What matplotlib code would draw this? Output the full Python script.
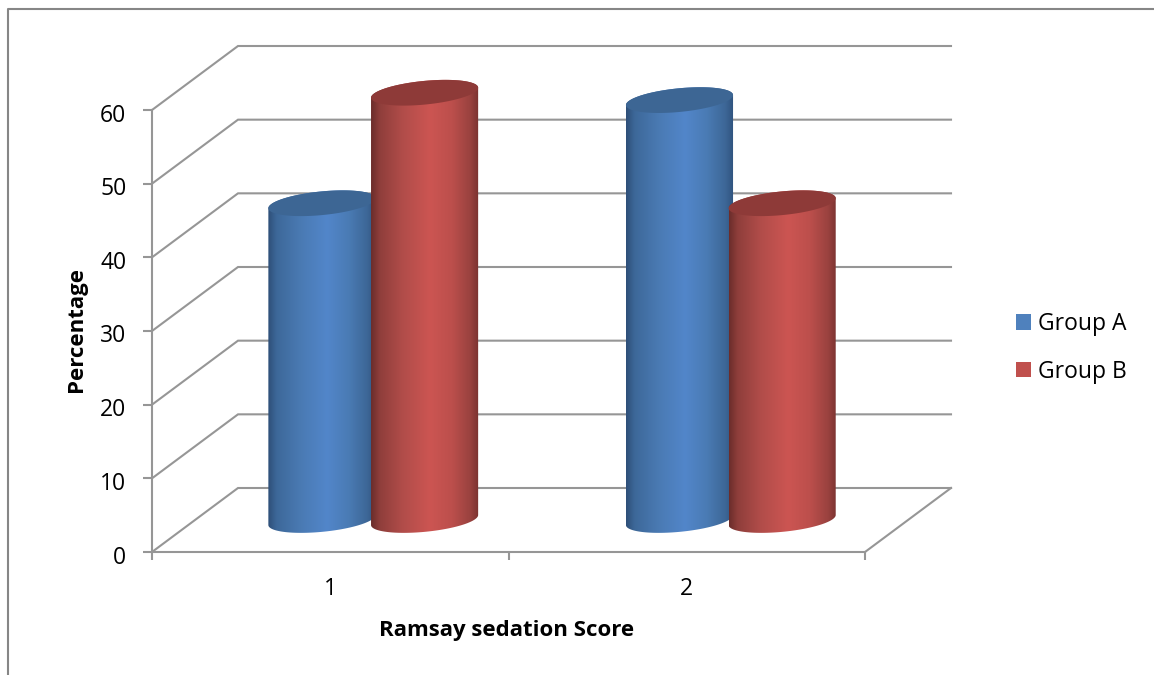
import numpy as np
import matplotlib
matplotlib.use("Agg")
import matplotlib.pyplot as plt
from matplotlib.colors import LinearSegmentedColormap
from matplotlib.lines import Line2D
from matplotlib.patches import Patch, PathPatch
from matplotlib.path import Path
from matplotlib.transforms import ScaledTranslation

categories = ["1", "2"]
group_a = [43, 57]
group_b = [58, 43]
series_names = ["Group A", "Group B"]
y_ticks = [0, 10, 20, 30, 40, 50, 60]
x_title = "Ramsay sedation Score"
y_title = "Percentage"

plt.rcParams["font.family"] = ["Open Sans", "DejaVu Sans"]

W, H = 1154, 675
GRID = "#969696"
BLUE, RED = "#4F81BD", "#C0504D"
BLUE_TOP, RED_TOP = "#3D6694", "#8E3A38"
blue_ramp = LinearSegmentedColormap.from_list("blue_ramp", [
    (0, "#2E4F78"), (.08, "#3D6899"), (.30, "#4A7AB3"), (.55, "#5286CA"),
    (.75, "#4A7BB4"), (.92, "#3D6797"), (1, "#30537E")])
red_ramp = LinearSegmentedColormap.from_list("red_ramp", [
    (0, "#6B2D2B"), (.08, "#8F3E3B"), (.30, "#B24D4A"), (.55, "#CC5552"),
    (.75, "#BC4F4C"), (.92, "#9A423F"), (1, "#7A3230")])

fig = plt.figure(figsize=(W / 100, H / 100), dpi=100, facecolor="white")
left, right, bottom, top = 152, 865, 552, 110
ax = fig.add_axes([left / W, 1 - bottom / H, (right - left) / W, (bottom - top) / H])
ax.set_xlim(0, 2)
ax.set_ylim(0, 60)
ax.patch.set_visible(False)

# pixel sizes of the oblique projection expressed in data units
px_x = 2 / (right - left)
px_y = 60 / (bottom - top)
depth_x, depth_y = 86 * px_x, 64 * px_y

for s in ("top", "right"):
    ax.spines[s].set_visible(False)
for s in ("left", "bottom"):
    ax.spines[s].set_color(GRID)
    ax.spines[s].set_linewidth(1.5)

ax.set_yticks(y_ticks)
ax.set_xticks([0, 1, 2], labels=[])
ax.set_xticks([0.5, 1.5], labels=categories, minor=True)
ax.tick_params(axis="y", length=6.5, width=1.5, color=GRID, pad=12, labelsize=16.5, labelcolor="black")
ax.tick_params(axis="x", which="major", length=6, width=1.5, color=GRID)
ax.tick_params(axis="x", which="minor", length=0, pad=18, labelsize=16.5, labelcolor="black")

# nudge the value labels slightly below their ticks
nudge = ScaledTranslation(0, -2.5 / 100, fig.dpi_scale_trans)
for lab in ax.get_yticklabels():
    lab.set_transform(lab.get_transform() + nudge)

# floor and back wall
for v in y_ticks:
    ax.plot([0, depth_x, 2 + depth_x], [v, v + depth_y, v + depth_y],
            color=GRID, lw=1.5, clip_on=False, zorder=1,
            solid_joinstyle="miter", solid_capstyle="projecting")
ax.plot([2, 2 + depth_x], [0, depth_y], color=GRID, lw=1.5, clip_on=False, zorder=1,
        solid_capstyle="projecting")


def ellipse_xy(cx, cy, n=241):
    """Tilted ellipse for a cylinder cap, returned in data units."""
    a, b, theta = 53.8, 11.8, np.radians(5.6)
    t = np.linspace(0, 2 * np.pi, n)
    ex = a * np.cos(t) * np.cos(theta) - b * np.sin(t) * np.sin(theta)
    ey = a * np.cos(t) * np.sin(theta) + b * np.sin(t) * np.cos(theta)
    return cx + ex * px_x, cy + ey * px_y


def cylinder(pos, value, ramp, cap_colour, z):
    cx = pos + depth_x / 2
    base_y = depth_y / 2
    bx, by = ellipse_xy(cx, base_y)
    tx, ty = ellipse_xy(cx, base_y + value)
    il, ir = np.argmin(bx[:-1]), np.argmax(bx[:-1])
    # lower arc of the base from left tangent to right tangent, then back across the top
    idx = np.arange(241)
    lower = idx[by[idx] <= by[il] + (by[ir] - by[il]) * (bx[idx] - bx[il]) / (bx[ir] - bx[il])]
    lower = lower[np.argsort(bx[lower])]
    upper = idx[ty[idx] >= ty[il] + (ty[ir] - ty[il]) * (tx[idx] - tx[il]) / (tx[ir] - tx[il])]
    upper = upper[np.argsort(-tx[upper])]
    verts = np.vstack([np.c_[bx[lower], by[lower]], np.c_[tx[upper], ty[upper]]])
    body = Path(np.vstack([verts, verts[0]]), closed=True)
    patch = PathPatch(body, transform=ax.transData, facecolor="none", edgecolor="none")
    ax.add_patch(patch)
    patch.set_clip_on(False)
    im = ax.imshow(np.linspace(0, 1, 256)[None, :], cmap=ramp, aspect="auto",
                   extent=(bx.min(), bx.max(), 0, base_y + value + depth_y),
                   zorder=z, interpolation="bilinear")
    im.set_clip_box(fig.bbox)
    im.set_clip_path(patch)
    ax.fill(tx, ty, color=cap_colour, lw=0, zorder=z + 0.1, clip_on=False)


offset = 0.144
for i, c in enumerate([0.5, 1.503]):
    cylinder(c - offset, group_a[i], blue_ramp, BLUE_TOP, 3)
    cylinder(c + offset, group_b[i], red_ramp, RED_TOP, 4)
ax.set_xlim(0, 2)
ax.set_ylim(0, 60)

ax.set_xlabel(x_title, fontsize=16, fontweight="bold", labelpad=13.5, x=0.497)
ax.set_ylabel(y_title, fontsize=16, fontweight="bold", labelpad=9.5, y=0.5045)

handles = [Patch(facecolor=BLUE, label=series_names[0]), Patch(facecolor=RED, label=series_names[1])]
fig.legend(handles=handles, loc="center left", bbox_to_anchor=(1016 / W, 1 - 348 / H),
           frameon=False, fontsize=16.5, handlelength=0.66, handleheight=0.66,
           handletextpad=0.29, labelspacing=1.03, borderpad=0, borderaxespad=0)

# outer chart frame, running off the canvas on the right and at the bottom
fig.add_artist(Line2D([8 / W, 8 / W, 1], [0, 1 - 9 / H, 1 - 9 / H], color="#868686", lw=1.5,
                      transform=fig.transFigure))

fig.savefig("out.png", dpi=100, facecolor="white")
